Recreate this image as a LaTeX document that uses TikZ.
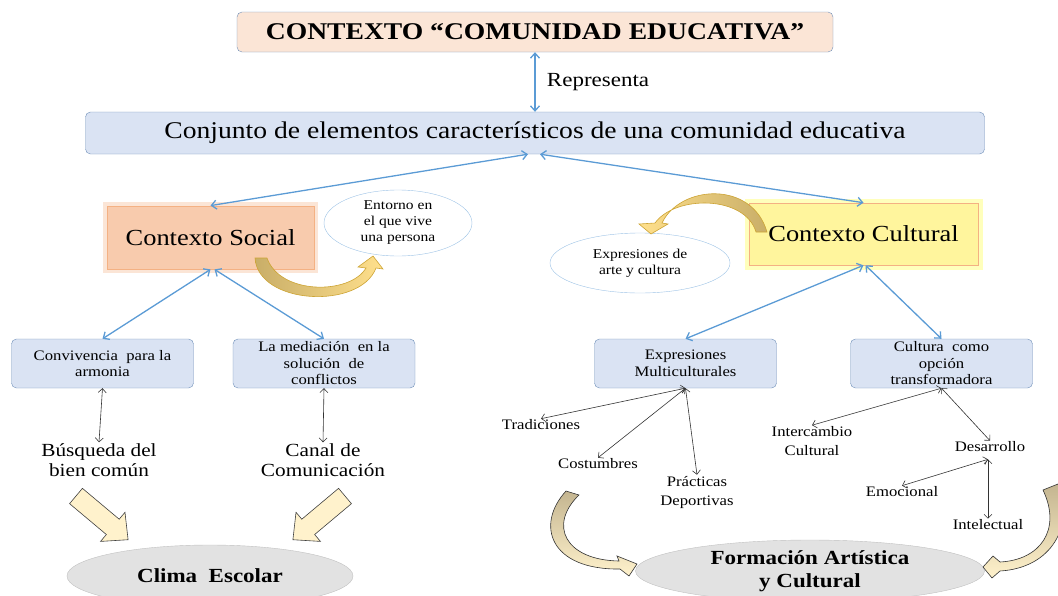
\documentclass[tikz,border=0pt]{standalone}
\usepackage{fontspec}
\setmainfont{Liberation Serif}[FakeStretch=1.15]
\usepackage{xcolor}
\usepackage{tikz}
\usetikzlibrary{shapes, arrows.meta, calc, positioning}

\definecolor{boxline}{HTML}{6F8FB8}
\definecolor{peach}{HTML}{FBE5D6}
\definecolor{paleblue}{HTML}{DAE3F3}
\definecolor{linkblue}{HTML}{5B9BD5}
\definecolor{salmon}{HTML}{F8CBAD}
\definecolor{salmonline}{HTML}{F4B183}
\definecolor{lemon}{HTML}{FFF59D}
\definecolor{lemonglow}{HTML}{FFFF8F}
\definecolor{ovalline}{HTML}{9DC3E6}
\definecolor{softgray}{HTML}{E2E2E2}
\definecolor{grayline}{HTML}{C0C0C0}
\definecolor{cream}{HTML}{FFF2CC}
\definecolor{sandtan}{HTML}{C4B590}
\definecolor{goldtan}{HTML}{C9AE68}
\definecolor{goldlight}{HTML}{FFE08C}
\definecolor{goldline}{HTML}{CDA434}

\begin{document}
\begin{tikzpicture}[
    x=1pt, y=-1pt,
    >={Straight Barb[length=5pt,width=9pt]}
]
    % Styles
    \tikzstyle{titlebox} = [draw=boxline, fill=peach, rounded corners=5pt, minimum width=596pt, minimum height=40pt, font=\bfseries\fontsize{24}{26}\selectfont]
    \tikzstyle{mainbox} = [draw=boxline, fill=paleblue, rounded corners=5pt, minimum width=899pt, minimum height=42pt, font=\fontsize{24}{26}\selectfont]
    \tikzstyle{socialbox} = [draw=salmonline, fill=salmon, line width=0.8pt, minimum width=207pt, minimum height=63pt, font=\fontsize{23}{25}\selectfont, preaction={draw=salmon, line width=8pt, draw opacity=0.5}]
    \tikzstyle{culturalbox} = [draw=salmonline, fill=lemon, line width=0.6pt, minimum width=229pt, minimum height=62pt, font=\fontsize{23}{25}\selectfont, preaction={draw=lemonglow, line width=9pt, draw opacity=0.6}]
    \tikzstyle{oval} = [draw=ovalline, fill=white, ellipse, inner sep=0pt, align=center, font=\fontsize{13.5}{16}\selectfont]
    \tikzstyle{smallbox} = [draw=boxline, fill=paleblue, rounded corners=5pt, minimum width=182pt, minimum height=49pt, inner sep=1pt, align=center, font=\fontsize{14.5}{16.5}\selectfont]
    \tikzstyle{leaf} = [inner sep=1pt, align=center, font=\fontsize{14.5}{19}\selectfont]
    \tikzstyle{bigleaf} = [inner sep=1pt, align=center, font=\fontsize{18.5}{20}\selectfont]
    \tikzstyle{goal} = [draw=grayline, fill=softgray, ellipse, inner sep=0pt, align=center, font=\bfseries\fontsize{20}{23}\selectfont]
    \tikzstyle{bluelink} = [<->, draw=linkblue, line width=1.3pt]
    \tikzstyle{blacklink} = [<->, draw=black!80, line width=0.6pt, >={Straight Barb[length=4pt,width=8pt]}]
    \tikzstyle{blockarrow} = [draw=black!75, fill=cream, line width=0.6pt]
    \tikzstyle{goldarrow} = [draw=goldline, line width=0.6pt]
    \tikzstyle{tanarrow} = [draw=black!80, line width=0.6pt]

    \useasboundingbox (0,0) rectangle (1058,595);

    % Components

    % Top
    \node [titlebox] (Title) at (535,32) {CONTEXTO “COMUNIDAD EDUCATIVA”};
    \node [mainbox] (Conjunto) at (535,133) {Conjunto de elementos característicos de una comunidad educativa};

    % Contexts
    \node [socialbox] (Social) at (210.5,237.5) {Contexto Social};
    \node [culturalbox] (Cultural) at (863.5,234) {Contexto Cultural};
    \node [oval, minimum width=148pt, minimum height=66pt] (Entorno) at (398,223) {Entorno en\\el que vive\\una persona};
    \node [oval, minimum width=180pt, minimum height=60pt] (Arte) at (640,263) {Expresiones de\\arte y cultura};

    % Second level boxes
    \node [smallbox] (Conv) at (102.5,363.5) {Convivencia\ \ para la\\armonia};
    \node [smallbox] (Med) at (324,363.5) {La mediación\ \ en la\\solución\ \ de\\conflictos};
    \node [smallbox] (Multi) at (685.5,363.5) {Expresiones\\Multiculturales};
    \node [smallbox] (Transf) at (941.5,363.5) {Cultura\ \ como\\opción\\transformadora};

    % Social leaves
    \node [bigleaf] (Busq) at (99,460) {Búsqueda del\\bien común};
    \node [bigleaf] (Canal) at (323,460) {Canal de\\Comunicación};

    % Cultural leaves
    \node [leaf] (Trad) at (541,425) {Tradiciones};
    \node [leaf] (Cost) at (598,464) {Costumbres};
    \node [leaf] (Prac) at (697,492) {Prácticas\\Deportivas};
    \node [leaf] (Inter) at (812,441) {Intercambio\\Cultural};
    \node [leaf] (Desa) at (990,447) {Desarrollo};
    \node [leaf] (Emoc) at (902,492) {Emocional};
    \node [leaf] (Intel) at (988,525) {Intelectual};

    % Goals
    \node [goal, minimum width=286pt, minimum height=62pt] (Clima) at (210,576) {Clima\ \ Escolar};
    \node [goal, minimum width=349pt, minimum height=62pt] (Formacion) at (810,571) {Formación Artística\\y Cultural};

    % Connections
    \draw [bluelink] (Title.south) -- (Conjunto.north) node[midway, right=8pt, font=\fontsize{20}{22}\selectfont, text=black] {Representa};
    \draw [bluelink] ($(Conjunto.south)+(-7,0)$) -- (Social.north);
    \draw [bluelink] ($(Conjunto.south)+(5,0)$) -- (Cultural.north);
    \draw [bluelink] (Social.south) -- (Conv.north);
    \draw [bluelink] ($(Social.south)+(4,0)$) -- (Med.north);
    \draw [bluelink] (Cultural.south) -- (Multi.north);
    \draw [bluelink] ($(Cultural.south)+(2,0)$) -- (Transf.north);

    \draw [blacklink] (Conv.south) -- (Busq.north);
    \draw [blacklink] (Med.south) -- (Canal.north);

    \draw [blacklink] (Multi.south) -- (Trad.north);
    \draw [blacklink] (Multi.south) -- (Cost.north);
    \draw [blacklink] (Multi.south) -- (Prac.north);
    \draw [blacklink] (Transf.south) -- (Inter.north);
    \draw [blacklink] (Transf.south) -- (Desa.north);
    \coordinate (desa_split) at ($(Desa.south)+(-2,6)$);
    \draw [blacklink] (desa_split) -- (Emoc.north);
    \draw [blacklink] (desa_split) -- (Intel.north);

    % Curved gold arrows
    \draw [goldarrow, left color=goldtan, right color=goldlight]
        (255,258) .. controls (258,305) and (360,310) .. (376,268) -- (383,269) -- (373,256)
        -- (358,267) -- (366,268) .. controls (350,295) and (280,295) .. (267,258) -- cycle;
    \draw [goldarrow, left color=goldlight, right color=goldtan]
        (767,232) .. controls (752,180) and (680,185) .. (662,223) -- (668,224) -- (651,234)
        -- (639,224) -- (655,223) .. controls (675,195) and (745,195) .. (756,232) -- cycle;

    % Block arrows into Clima Escolar
    \draw [blockarrow, shift={(76,496)}, rotate=-40]
        (0,-10) -- (48,-10) -- (48,-19) -- (68,0) -- (48,19) -- (48,10) -- (0,10) -- cycle;
    \draw [blockarrow, shift={(345,496)}, rotate=-140]
        (0,-10) -- (48,-10) -- (48,-19) -- (68,0) -- (48,19) -- (48,10) -- (0,10) -- cycle;

    % Curved arrows into Formacion
    \draw [tanarrow, top color=sandtan, bottom color=cream]
        (566,491) .. controls (535,525) and (550,570) .. (620,569) -- (629,576) -- (637,564)
        -- (617,556) -- (619,561) .. controls (565,560) and (548,525) .. (579,495) -- cycle;
    \draw [tanarrow, top color=sandtan, bottom color=cream]
        (1043,490) .. controls (1062,530) and (1040,560) .. (1000,562) -- (993,556) -- (983,567)
        -- (992,578) -- (1000,571) .. controls (1052,568) and (1075,525) .. (1058,484) -- cycle;

\end{tikzpicture}
\end{document}
